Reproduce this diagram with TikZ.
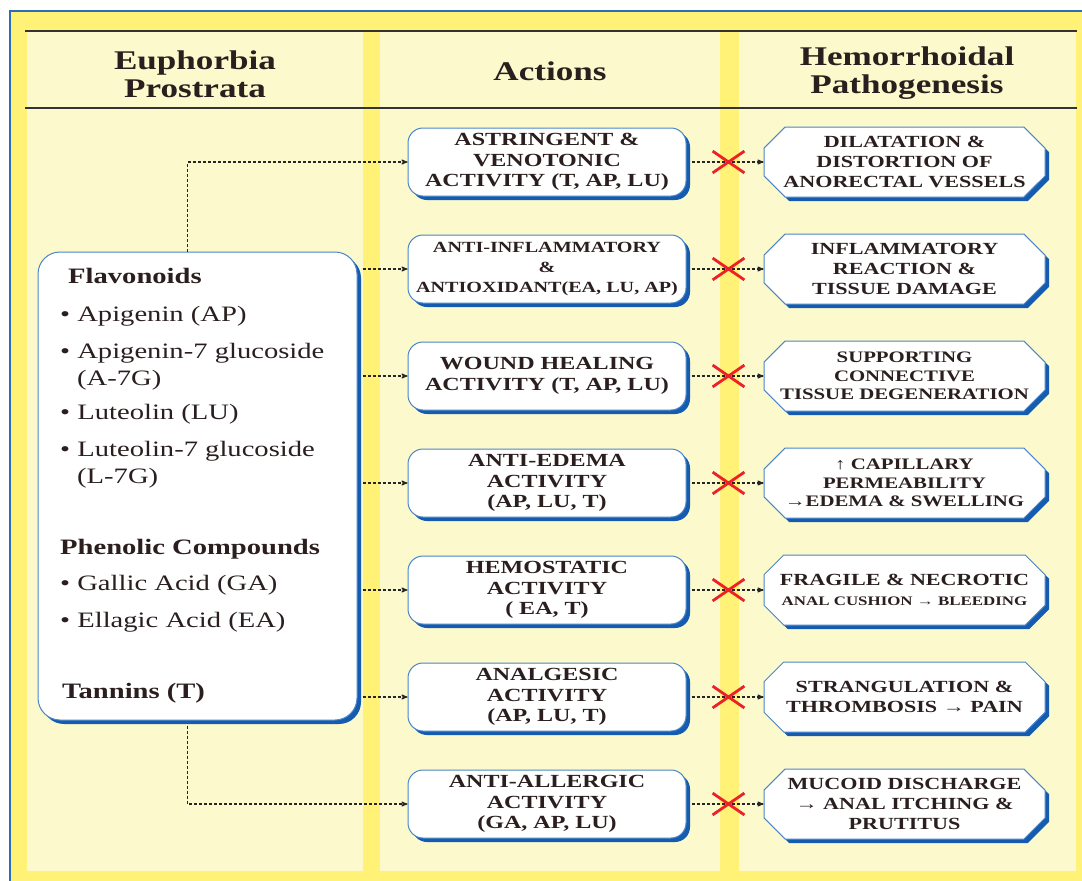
\documentclass[tikz,border=0pt]{standalone}
\usepackage{fontspec}
\setmainfont{Liberation Serif}[FakeStretch=1.3]
\usetikzlibrary{arrows}
\usetikzlibrary{shapes.misc,shadows}

\definecolor{frameblue}{HTML}{2E6DB4}
\definecolor{boxblue}{HTML}{4A86C8}
\definecolor{shadowblue}{HTML}{155CB0}
\definecolor{stripe}{HTML}{FFF276}
\definecolor{panel}{HTML}{FCF9CD}
\definecolor{panelmid}{HTML}{EDF2C2}
\definecolor{ink}{HTML}{2A1E1E}
\definecolor{xred}{HTML}{EC2027}

\tikzset{
 blueshadow/.style={drop shadow={shadow xshift=4pt,shadow yshift=-4pt,fill=shadowblue,opacity=1}},
 headtext/.style={align=center, text=ink, font=\bfseries\fontsize{27}{28}\selectfont},
 headline/.style={draw=black!80, line width=1.2pt},
 srcbox/.style={draw=boxblue, fill=white, line width=1pt, rounded corners=22pt, minimum width=319pt, minimum height=468pt, blueshadow},
 itemtext/.style={anchor=base west, inner sep=0pt, text=ink, font=\fontsize{22}{26}\selectfont},
 grouptext/.style={anchor=base west, inner sep=0pt, text=ink, font=\bfseries\fontsize{22}{26}\selectfont},
 actbox/.style={draw=boxblue, fill=white, line width=1pt, rounded corners=15pt, minimum width=278pt, minimum height=68pt, inner sep=1pt, align=center, text=ink, font=\bfseries\fontsize{18.5}{20.5}\selectfont, blueshadow},
 pathbox/.style={chamfered rectangle, chamfered rectangle ysep=18pt, inner xsep=1pt, inner ysep=-14pt, draw=boxblue, fill=white, line width=1pt, minimum width=281pt, minimum height=70pt, align=center, text=ink, font=\bfseries\fontsize{17}{20}\selectfont, blueshadow},
 conn/.style={black!85, densely dashed, line width=1.1pt, ->, >=stealth'},
 block/.style={draw=xred, cross out, line width=2.8pt, minimum width=29pt, minimum height=19pt, inner sep=0pt},
}

\begin{document}
\begin{tikzpicture}[x=1pt,y=-1pt]
\useasboundingbox (0,0) rectangle (1082,881);
% frame and columns
\fill[stripe, draw=frameblue, line width=1.5pt] (10,11) rectangle (1100,900);
\foreach \xa/\xb in {27/363, 380/720, 739/1076} {
 \fill[panel] (\xa,31) rectangle (\xb,108);
 \shade[top color=panel, middle color=panelmid, bottom color=panel] (\xa,108) rectangle (\xb,870);
}
\draw[headline] (25,31) -- (1077,31);
\draw[headline] (25,108) -- (1077,108);

\node[headtext] (hsrc) at (195,74) {Euphorbia\\Prostrata};
\node[headtext, anchor=base] (hact) at (550,80) {Actions};
\node[headtext] (hpath) at (907,73) {Hemorrhoidal\\Pathogenesis};

% compounds
\node[srcbox] (src) at (197.5,486) {};
\node[grouptext] (flav) at (68,283) {Flavonoids};
\node[itemtext] (ap) at (60,321) {• Apigenin (AP)};
\node[itemtext] (apg) at (60,358) {• Apigenin-7 glucoside};
\node[itemtext] (apg2) at (77,385) {(A-7G)};
\node[itemtext] (lu) at (60,419) {• Luteolin (LU)};
\node[itemtext] (lug) at (60,456) {• Luteolin-7 glucoside};
\node[itemtext] (lug2) at (77,483) {(L-7G)};
\node[grouptext] (phen) at (60,554) {Phenolic Compounds};
\node[itemtext] (ga) at (60,590) {• Gallic Acid (GA)};
\node[itemtext] (ea) at (60,627) {• Ellagic Acid (EA)};
\node[grouptext] (tan) at (62,698) {Tannins (T)};

% actions
\node[actbox] (act1) at (547,162) {ASTRINGENT \&\\VENOTONIC\\ACTIVITY (T, AP, LU)};
\node[actbox, font=\bfseries\fontsize{15.5}{20}\selectfont] (act2) at (547,269) {ANTI-INFLAMMATORY\\\&\\ANTIOXIDANT(EA, LU, AP)};
\node[actbox] (act3) at (547,376) {WOUND HEALING\\ACTIVITY (T, AP, LU)};
\node[actbox] (act4) at (547,483) {ANTI-EDEMA\\ACTIVITY\\(AP, LU, T)};
\node[actbox] (act5) at (547,590) {HEMOSTATIC\\ACTIVITY\\( EA, T)};
\node[actbox] (act6) at (547,697) {ANALGESIC\\ACTIVITY\\(AP, LU, T)};
\node[actbox] (act7) at (547,804) {ANTI-ALLERGIC\\ACTIVITY\\(GA, AP, LU)};

% pathogenesis
\node[pathbox] (path1) at (904.5,162) {DILATATION \&\\DISTORTION OF\\ANORECTAL VESSELS};
\node[pathbox] (path2) at (904.5,269) {INFLAMMATORY\\REACTION \&\\TISSUE DAMAGE};
\node[pathbox, font=\bfseries\fontsize{16}{18.5}\selectfont] (path3) at (904.5,376) {SUPPORTING\\CONNECTIVE\\TISSUE DEGENERATION};
\node[pathbox, font=\bfseries\fontsize{16}{18.5}\selectfont] (path4) at (904.5,483) {↑ CAPILLARY\\PERMEABILITY\\→EDEMA \& SWELLING};
\node[pathbox] (path5) at (904.5,590) {FRAGILE \& NECROTIC\\{\fontsize{13}{16}\selectfont ANAL CUSHION → BLEEDING}};
\node[pathbox] (path6) at (904.5,697) {STRANGULATION \&\\THROMBOSIS → PAIN};
\node[pathbox] (path7) at (904.5,804) {MUCOID DISCHARGE\\→ ANAL ITCHING \&\\PRUTITUS};

% connectors
\draw[conn] ([xshift=-10pt]src.north) |- (act1.west);
\draw[conn] ([xshift=-10pt,yshift=-5pt]src.south) |- (act7.west);
\foreach \i in {2,...,6} \draw[conn] ([xshift=5pt]src.east |- act\i) -- (act\i.west);
\foreach \i in {1,...,7} {
 \draw[conn] ([xshift=5pt]act\i.east) -- (path\i.west);
 \node[block] (no\i) at ([xshift=42pt]act\i.east) {};
}
\end{tikzpicture}
\end{document}
